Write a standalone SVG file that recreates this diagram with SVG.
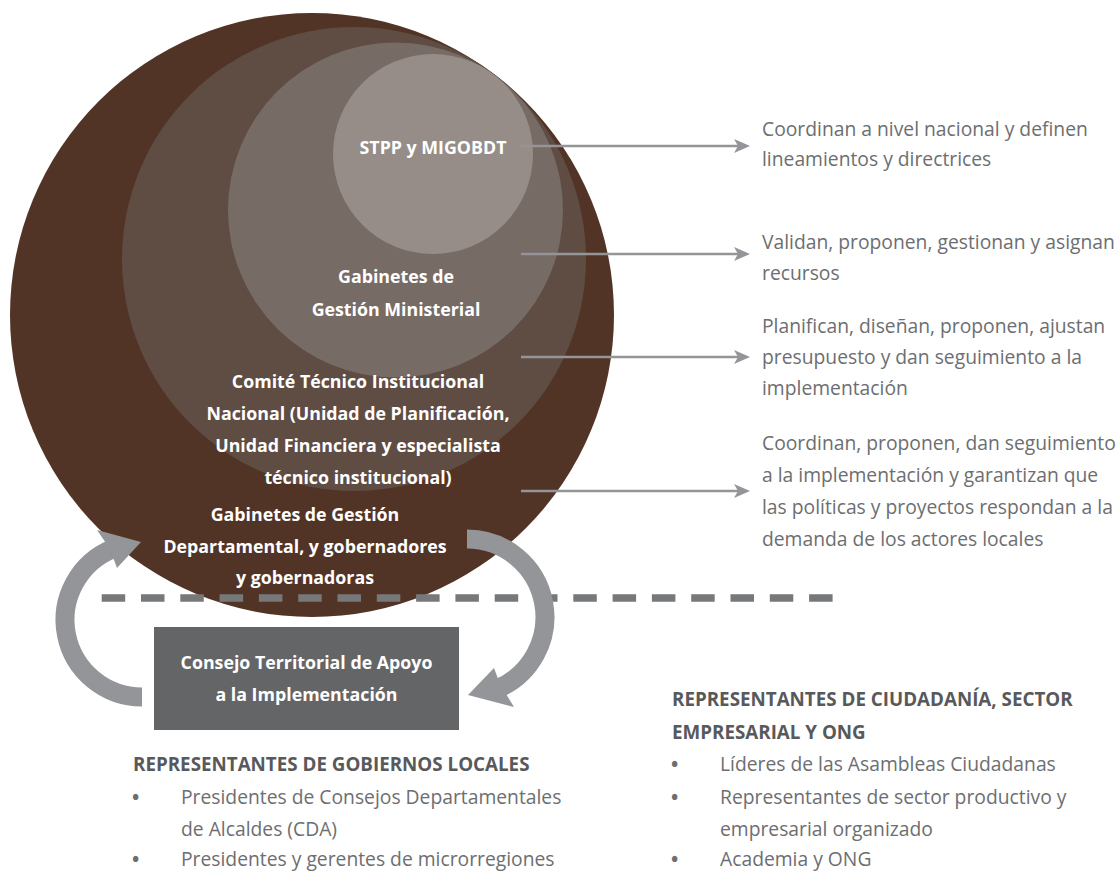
<svg xmlns="http://www.w3.org/2000/svg" width="1120" height="872" viewBox="0 0 1120 872">
<defs>
<style>
.lbl{font-family:"Open Sans","Liberation Sans",sans-serif;font-weight:700;font-size:17.8px;fill:#ffffff;text-anchor:middle}
.desc{font-family:"Open Sans","Liberation Sans",sans-serif;font-size:19.3px;fill:#6d6e71}
.bul{font-family:"Open Sans","Liberation Sans",sans-serif;font-size:19.3px;font-weight:700;fill:#6d6e71}
.head{font-family:"Open Sans","Liberation Sans",sans-serif;font-weight:700;font-size:18.8px;fill:#58595b}
.conn{stroke:#939598;stroke-width:2.5;fill:none}
.band{stroke:#939598;stroke-width:19;fill:none}
.head-fill{fill:#939598}
</style>
<marker id="ah" markerWidth="16" markerHeight="14" refX="12" refY="7" orient="auto" markerUnits="userSpaceOnUse">
<path d="M0,0 L16,7 L0,14 L4,7 Z" fill="#939598"/>
</marker>
</defs>
<rect width="1120" height="872" fill="#ffffff"/>
<g id="circles">
<circle id="c-departamental" cx="312" cy="315" r="302" fill="#523427"/>
<circle id="c-comite" cx="354" cy="259" r="232" fill="#5f4c43"/>
<circle id="c-gabinetes" cx="395.5" cy="210" r="167.5" fill="#776b66"/>
<circle id="c-stpp" cx="433" cy="154" r="100" fill="#968d89"/>
</g>
<g id="dashed-line">
<line x1="101.7" y1="598" x2="833" y2="598" stroke="#77787a" stroke-width="7.5" stroke-dasharray="23.5 15.8"/>
</g>
<g id="connectors">
<line class="conn" x1="521" y1="146" x2="746" y2="146" marker-end="url(#ah)"/>
<line class="conn" x1="521" y1="254" x2="746" y2="254" marker-end="url(#ah)"/>
<line class="conn" x1="521" y1="357" x2="746" y2="357" marker-end="url(#ah)"/>
<line class="conn" x1="521" y1="491" x2="746" y2="491" marker-end="url(#ah)"/>
<path class="band" d="M142,697 A77,77 0 0 1 113.2,548.6"/>
<polygon class="head-fill" points="141,542 97,530 110,549 117,568"/>
<path class="band" d="M467,539 A78,78 0 0 1 496.2,689.3"/>
<polygon class="head-fill" points="468,695 494,668 500,684 514,707"/>
</g>
<g id="node-stpp">
<text class="lbl" x="433" y="154">STPP y MIGOBDT</text>
</g>
<g id="node-gabinetes-ministerial">
<text class="lbl" x="396" y="283">Gabinetes de</text>
<text class="lbl" x="396" y="316">Gestión Ministerial</text>
</g>
<g id="node-comite">
<text class="lbl" x="358" y="388">Comité Técnico Institucional</text>
<text class="lbl" x="358" y="420">Nacional (Unidad de Planificación,</text>
<text class="lbl" x="358" y="452">Unidad Financiera y especialista</text>
<text class="lbl" x="358" y="484">técnico institucional)</text>
</g>
<g id="node-gabinetes-departamental">
<text class="lbl" x="305" y="521">Gabinetes de Gestión</text>
<text class="lbl" x="305" y="553">Departamental, y gobernadores</text>
<text class="lbl" x="305" y="584">y gobernadoras</text>
</g>
<g id="node-consejo">
<rect x="154" y="627" width="305" height="103" fill="#646567"/>
<text class="lbl" x="306.5" y="669">Consejo Territorial de Apoyo</text>
<text class="lbl" x="306.5" y="701">a la Implementación</text>
</g>
<g id="desc-1">
<text class="desc" x="762" y="136">Coordinan a nivel nacional y definen</text>
<text class="desc" x="762" y="166">lineamientos y directrices</text>
</g>
<g id="desc-2">
<text class="desc" x="762" y="249">Validan, proponen, gestionan y asignan</text>
<text class="desc" x="762" y="280">recursos</text>
</g>
<g id="desc-3">
<text class="desc" x="762" y="333">Planifican, diseñan, proponen, ajustan</text>
<text class="desc" x="762" y="364">presupuesto y dan seguimiento a la</text>
<text class="desc" x="762" y="395">implementación</text>
</g>
<g id="desc-4">
<text class="desc" x="762" y="450">Coordinan, proponen, dan seguimiento</text>
<text class="desc" x="762" y="482">a la implementación y garantizan que</text>
<text class="desc" x="762" y="514">las políticas y proyectos respondan a la</text>
<text class="desc" x="762" y="546">demanda de los actores locales</text>
</g>
<g id="list-gobiernos-locales">
<text class="head" x="133" y="771">REPRESENTANTES DE GOBIERNOS LOCALES</text>
<text class="bul" x="132" y="804">•</text>
<text class="desc" x="181" y="804">Presidentes de Consejos Departamentales</text>
<text class="desc" x="181" y="836">de Alcaldes (CDA)</text>
<text class="bul" x="132" y="866">•</text>
<text class="desc" x="181" y="866">Presidentes y gerentes de microrregiones</text>
</g>
<g id="list-ciudadania">
<text class="head" x="672" y="706">REPRESENTANTES DE CIUDADANÍA, SECTOR</text>
<text class="head" x="672" y="739">EMPRESARIAL Y ONG</text>
<text class="bul" x="671" y="771">•</text>
<text class="desc" x="720" y="771">Líderes de las Asambleas Ciudadanas</text>
<text class="bul" x="671" y="804">•</text>
<text class="desc" x="720" y="804">Representantes de sector productivo y</text>
<text class="desc" x="720" y="836">empresarial organizado</text>
<text class="bul" x="671" y="866">•</text>
<text class="desc" x="720" y="866">Academia y ONG</text>
</g>
</svg>
